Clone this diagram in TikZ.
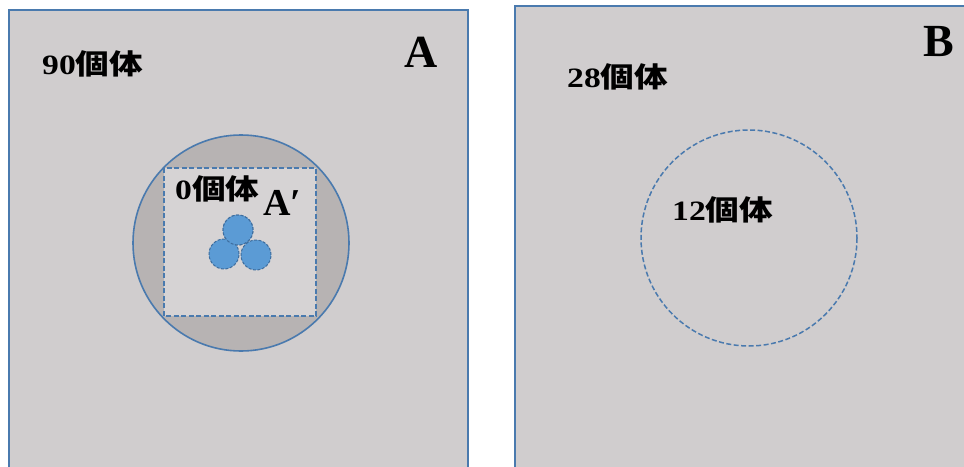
\documentclass[tikz,border=0pt]{standalone}
\usepackage{fontspec}
\setmainfont{Liberation Serif}
\newfontfamily\cjk{Noto Sans CJK JP}
\newcommand\kotai{{\cjk\bfseries 個体}}
\definecolor{bggray}{HTML}{D0CDCE}
\definecolor{inner}{HTML}{D6D3D4}
\definecolor{ringgray}{HTML}{B7B3B3}
\definecolor{edgeblue}{HTML}{4A7AAE}
\definecolor{dotblue}{HTML}{5B9BD5}
\definecolor{dotedge}{HTML}{3E6D9E}
\begin{document}
\begin{tikzpicture}[x=1pt,y=-1pt,
  panel/.style={draw=edgeblue, line width=1.6pt, fill=bggray},
  lbl/.style={inner sep=0pt, anchor=west, font=\bfseries\fontsize{28}{32}\selectfont},
  bigletter/.style={inner sep=0pt, font=\bfseries\fontsize{46}{50}\selectfont},
  dot/.style={fill=dotblue, draw=dotedge, dashed, line width=1pt, dash pattern=on 3pt off 1.5pt}]
\useasboundingbox (0,0) rectangle (964,466);
\clip (0,0) rectangle (964,466);
\fill[white] (0,0) rectangle (964,466);
% panel A
\draw[panel] (9,10) rectangle (468,480);
\fill[ringgray] (241,243) circle (108);
\fill[inner] (164,168) rectangle (316,316);
\draw[edgeblue, line width=1.6pt] (241,243) circle (108);
\draw[edgeblue, line width=1.4pt, dashed, dash pattern=on 5pt off 2.5pt] (164,168) rectangle (316,316);
\node[dot, circle, minimum size=30pt, inner sep=0pt] (d1) at (238,230) {};
\node[dot, circle, minimum size=30pt, inner sep=0pt] (d2) at (224,254) {};
\node[dot, circle, minimum size=30pt, inner sep=0pt] (d3) at (256,255) {};
\node[dot, circle, minimum size=30pt, inner sep=0pt] at (238,230) {};
\node[lbl] (n90) at (42,64) {\scalebox{1.2}[1]{90\kotai}};
\node[bigletter] (lA) at (421,52) {A};
\node[lbl] (n0) at (175,189) {\scalebox{1.2}[1]{0\kotai}};
\node[inner sep=0pt, anchor=west, font=\bfseries\fontsize{38}{42}\selectfont] (lA2) at (263,203) {A′};
% panel B
\draw[panel] (515,6) rectangle (990,480);
\node[bigletter] (lB) at (939,42) {B};
\node[lbl] (n28) at (567,77) {\scalebox{1.2}[1]{28\kotai}};
\draw[edgeblue, line width=1.5pt, dashed, dash pattern=on 5pt off 2.5pt] (749,238) circle (108);
\node[lbl] (n12) at (672,210) {\scalebox{1.2}[1]{12\kotai}};
\end{tikzpicture}
\end{document}
